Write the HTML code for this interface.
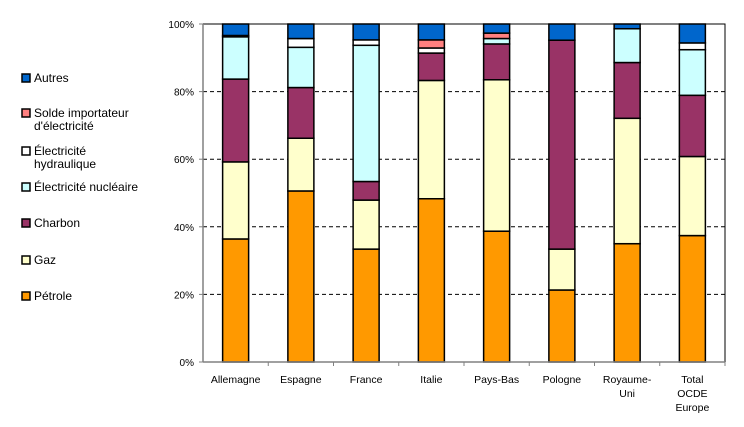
<!DOCTYPE html>
<html><head><meta charset="utf-8"><style>
body{margin:0;background:#fff;}
svg{display:block;font-family:"Liberation Sans",sans-serif;}
</style></head><body>
<svg id="chart" width="744" height="427">
<g id="grid"></g>
<g id="bars"></g>
<g id="axes"></g>
<g id="legend"></g>
</svg>
<script>
const categories=[["Allemagne"],["Espagne"],["France"],["Italie"],["Pays-Bas"],["Pologne"],["Royaume-","Uni"],["Total","OCDE","Europe"]];
const seriesNames=["Pétrole","Gaz","Charbon","Électricité nucléaire","Électricité hydraulique","Solde importateur d'électricité","Autres"];
const petrole=[36.4,50.6,33.4,48.3,38.7,21.3,35.0,37.4];
const gaz=[22.8,15.6,14.5,35.0,44.8,12.1,37.1,23.4];
const charbon=[24.5,15.0,5.5,8.1,10.6,61.8,16.5,18.1];
const nucleaire=[12.5,11.9,40.3,0,1.6,0,10.0,13.5];
const hydraulique=[0.4,2.6,1.6,1.5,0,0,0,2.0];
const importateur=[0,0,0,2.4,1.6,0,0,0];
const autres=[3.4,4.3,4.7,4.7,2.7,4.8,1.4,5.6];
const yTicks=["0%","20%","40%","60%","80%","100%"];
const series=[petrole,gaz,charbon,nucleaire,hydraulique,importateur,autres];
const colors=["#ff9900","#ffffcc","#993366","#ccffff","#ffffff","#ff8080","#0066cc"];
const NS="http://www.w3.org/2000/svg";
const X0=203,X1=725,Y0=362,Y1=24;
const bw=(X1-X0)/categories.length;
const y=v=>Y0-(v/100)*(Y0-Y1);
const xc=i=>X0+bw*(i+0.5);
function mk(p,t,a){const e=document.createElementNS(NS,t);for(const k in a)e.setAttribute(k,a[k]);p.appendChild(e);return e;}
const grid=document.getElementById('grid'),bars=document.getElementById('bars'),axes=document.getElementById('axes'),legend=document.getElementById('legend');
yTicks.forEach((t,i)=>{
 const v=i*20,yy=y(v);
 if(i>0&&i<5){const g=mk(grid,'line',{x1:X0,x2:X1,y1:yy,y2:yy,stroke:'#000','stroke-dasharray':'4,3','stroke-width':1});
 }
 const tk=mk(axes,'line',{x1:X0-4,x2:X0,y1:yy,y2:yy,stroke:'#808080'});
 
 const tx=mk(axes,'text',{x:X0-9,y:yy+4,'text-anchor':'end','font-size':10,fill:'#000'});tx.textContent=t;
 
});
categories.forEach((c,i)=>{
 let acc=0;
 series.forEach((s,j)=>{
  const v=s[i];if(v<=0)return;
  const r=mk(bars,'rect',{x:xc(i)-13,y:y(acc+v),width:26,height:y(acc)-y(acc+v),fill:colors[j],stroke:'#000','stroke-width':1.5});
  
  acc+=v;
 });
 const tk=mk(axes,'line',{x1:X0+bw*(i+1),x2:X0+bw*(i+1),y1:Y0,y2:Y0+4,stroke:'#808080'});
 
 c.forEach((ln,k)=>{const tx=mk(axes,'text',{x:xc(i),y:383+k*14,'text-anchor':'middle','font-size':10.5,fill:'#000'});tx.textContent=ln;
 });
});
const fr=mk(axes,'polyline',{points:`${X0},${Y1} ${X1},${Y1} ${X1},${Y0}`,fill:'none',stroke:'#000'});

const ya=mk(axes,'line',{x1:X0,x2:X0,y1:Y1,y2:Y0,stroke:'#808080','stroke-width':1.5});

const xa=mk(axes,'line',{x1:X0,x2:X1,y1:Y0,y2:Y0,stroke:'#808080','stroke-width':1.5});

const leg=[[6,["Autres"],78],[5,["Solde importateur","d'électricité"],113],[4,["Électricité","hydraulique"],151],[3,["Électricité nucléaire"],187],[2,["Charbon"],223],[1,["Gaz"],260],[0,["Pétrole"],296]];
leg.forEach(([j,lines,cy])=>{
 const g=mk(legend,'g',{});
 
 mk(g,'rect',{x:22,y:cy-4,width:8,height:8,fill:colors[j],stroke:'#000','stroke-width':1.5});
 lines.forEach((ln,k)=>{const t=mk(g,'text',{x:34,y:cy+4+k*13,'font-size':12,fill:'#000'});t.textContent=ln;});
});
</script>
</body></html>
